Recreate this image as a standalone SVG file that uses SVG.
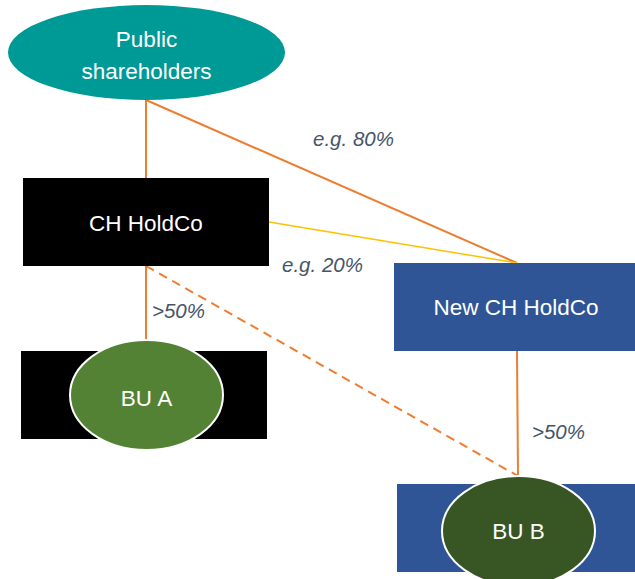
<svg xmlns="http://www.w3.org/2000/svg" width="635" height="579" viewBox="0 0 635 579">
<style>
.lbl{font-family:"Liberation Sans","Noto Sans",sans-serif;font-size:22.5px;fill:#fff;text-anchor:middle}
.pct{font-family:"Liberation Sans","Noto Sans",sans-serif;font-size:20.5px;font-style:italic;fill:#44546A}
.org{stroke:#ED7D31;stroke-width:2;fill:none}
</style>
<rect width="635" height="579" fill="#fff"/>
<g id="connectors">
<line class="org" x1="146" y1="100" x2="146" y2="178"/>
<line class="org" x1="146" y1="100" x2="517" y2="263"/>
<line x1="269" y1="222" x2="517" y2="263" stroke="#FFC000" stroke-width="1.5"/>
<line class="org" x1="146" y1="266" x2="146" y2="340"/>
<line class="org" x1="146" y1="266" x2="518" y2="476" stroke-dasharray="9,6"/>
<line class="org" x1="517" y1="351" x2="518" y2="476"/>
</g>
<g id="public">
<ellipse cx="146.5" cy="52.5" rx="138.5" ry="47.5" fill="#009A96"/>
<text class="lbl" x="146.5" y="47">Public</text>
<text class="lbl" x="146.5" y="79">shareholders</text>
</g>
<g id="chholdco">
<rect x="23" y="178" width="246" height="88" fill="#000"/>
<text class="lbl" x="146" y="231">CH HoldCo</text>
</g>
<g id="newchholdco">
<rect x="394" y="263" width="241" height="88" fill="#2F5597"/>
<text class="lbl" x="516" y="315">New CH HoldCo</text>
</g>
<g id="bua">
<rect x="21" y="351" width="246" height="88" fill="#000"/>
<ellipse cx="146.5" cy="395" rx="76.5" ry="55" fill="#548235" stroke="#fff" stroke-width="2"/>
<text class="lbl" x="146.5" y="406">BU A</text>
</g>
<g id="bub">
<rect x="397" y="484" width="238" height="88" fill="#2F5597"/>
<ellipse cx="518.5" cy="531" rx="76.5" ry="55" fill="#375623" stroke="#fff" stroke-width="2"/>
<text class="lbl" x="518.5" y="539">BU B</text>
</g>
<g id="labels">
<text class="pct" x="313" y="146">e.g. 80%</text>
<text class="pct" x="282" y="272">e.g. 20%</text>
<text class="pct" x="152" y="318">&gt;50%</text>
<text class="pct" x="532" y="439">&gt;50%</text>
</g>
</svg>
